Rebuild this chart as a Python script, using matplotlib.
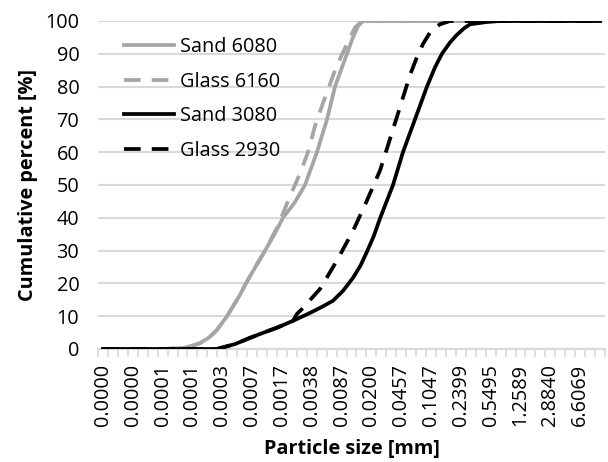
import numpy as np
import matplotlib
matplotlib.use("Agg")
import matplotlib.pyplot as plt
from matplotlib.ticker import NullFormatter, FixedLocator

# ---- data ----
# log10 of particle size [mm] and cumulative percent
sand6080_logx = [-4.94, -4.2, -3.974, -3.87, -3.769, -3.66, -3.564, -3.443, -3.286, -3.226, -3.10, -2.984,
                 -2.87, -2.767, -2.63, -2.501, -2.357, -2.236, -2.139, -2.06, -1.995, -1.922, -1.86, -1.801, 1.06]
sand6080_y = [0, 0, 0.3, 0.9, 1.8, 3.5, 5.8, 10, 16.5, 19.5, 25, 30,
              35, 40, 44.5, 50, 60, 70, 80, 85.5, 90, 95, 98.5, 100, 100]

glass6160_logx = [-4.94, -4.2, -3.974, -3.87, -3.769, -3.66, -3.564, -3.443, -3.286, -3.226, -3.10, -2.984,
                  -2.839, -2.683, -2.562, -2.465, -2.38, -2.284, -2.21, -2.139, -2.06, -1.995, -1.898, -1.814, 1.06]
glass6160_y = [0, 0, 0.3, 0.9, 1.8, 3.5, 5.8, 10, 16.5, 19.5, 25, 30,
               37, 46.5, 53.5, 60, 68, 75, 80, 85, 89.5, 93, 98, 100, 100]

sand3080_logx = [-4.94, -3.8, -3.564, -3.346, -3.165, -3.0, -2.839, -2.646, -2.441, -2.30, -2.164, -2.04, -1.922,
                 -1.83, -1.753, -1.67, -1.596, -1.439, -1.319, -1.174, -1.029, -0.93, -0.848, -0.75, -0.667,
                 -0.58, -0.510, -0.305, -0.148, 1.06]
sand3080_y = [0, 0, 0, 1.5, 3.4, 5.0, 6.5, 8.6, 11, 12.8, 14.7, 17.8, 21.7,
              25.5, 29.7, 34.5, 39.8, 50, 60, 70, 80, 86, 90, 93.5, 95.8,
              97.8, 99, 99.7, 100, 100]

glass2930_logx = [-4.94, -3.8, -3.564, -3.346, -3.165, -3.0, -2.839, -2.646, -2.598, -2.538, -2.320, -2.115,
                  -1.922, -1.753, -1.596, -1.476, -1.355, -1.234, -1.15, -1.077, -0.98, -0.872, -0.751, 1.06]
glass2930_y = [0, 0, 0, 1.5, 3.4, 5.0, 6.5, 8.6, 10.7, 12.2, 18.3, 27,
               36, 45.3, 54.4, 64, 73.7, 83.5, 89, 93, 97, 99, 100, 100]

series_names = ["Sand 6080", "Glass 6160", "Sand 3080", "Glass 2930"]
tick_labels = ["0.0000", "0.0000", "0.0001", "0.0001", "0.0003", "0.0007", "0.0017", "0.0038",
               "0.0087", "0.0200", "0.0457", "0.1047", "0.2399", "0.5495", "1.2589", "2.8840", "6.6069"]
y_ticks = [0, 10, 20, 30, 40, 50, 60, 70, 80, 90, 100]

# ---- style ----
plt.rcParams['font.family'] = ['Open Sans', 'DejaVu Sans']
plt.rcParams['lines.scale_dashes'] = False
FS = 14.3
GRAY = '#a5a5a5'
GRID = '#d9d9d9'

fig = plt.figure(figsize=(6.08, 4.62), dpi=100)
ax = fig.add_axes([98/608, 1-349/462, (605-98)/608, (349-21)/462])

lw = 2.7
dash = (12, 8)
ax.plot(10**np.array(sand6080_logx), sand6080_y, color=GRAY, lw=lw, label=series_names[0], zorder=3)
ax.plot(10**np.array(glass6160_logx), glass6160_y, color=GRAY, lw=lw, dashes=dash, label=series_names[1], zorder=3)
ax.plot(10**np.array(sand3080_logx), sand3080_y, color='black', lw=lw, label=series_names[2], zorder=4)
ax.plot(10**np.array(glass2930_logx), glass2930_y, color='black', lw=lw, dashes=dash, label=series_names[3], zorder=4)

ax.set_xscale('log')
ax.set_xlim(10**-5.0, 10**1.12)
ax.set_ylim(0, 100)

major_pos = 10**(-4.94 + 0.36*np.arange(len(tick_labels)))
ax.xaxis.set_major_locator(FixedLocator(major_pos))
ax.set_xticklabels(tick_labels, rotation=90, fontsize=FS)
ax.tick_params(axis='x', which='major', length=0, pad=11)
minor_pos = 10**(-5.0 + 0.12*np.arange(52))
ax.xaxis.set_minor_locator(FixedLocator(minor_pos))
ax.xaxis.set_minor_formatter(NullFormatter())
ax.tick_params(axis='x', which='minor', length=6, width=1.2, color=GRID, direction='out')

ax.set_yticks(y_ticks)
ax.set_yticklabels([str(v) for v in y_ticks], fontsize=FS)
ax.tick_params(axis='y', length=0, pad=13.5)

ax.grid(axis='y', color=GRID, lw=1.5, zorder=0)
ax.set_axisbelow(True)
for s in ['top', 'right', 'left']:
    ax.spines[s].set_visible(False)
ax.spines['bottom'].set_color(GRID)
ax.spines['bottom'].set_linewidth(1.5)

ax.set_ylabel("Cumulative percent [%]", fontsize=FS, fontweight='bold', labelpad=5)
ax.set_xlabel("Particle size [mm]", fontsize=FS, fontweight='bold', labelpad=9)

leg = ax.legend(loc='upper left', bbox_to_anchor=(124/608, 1-37/462), bbox_transform=fig.transFigure,
                frameon=False, fontsize=FS, handlelength=2.5, handletextpad=0.3,
                labelspacing=0.74, borderaxespad=0, borderpad=0)

fig.savefig("out.png", dpi=100, facecolor='white')
